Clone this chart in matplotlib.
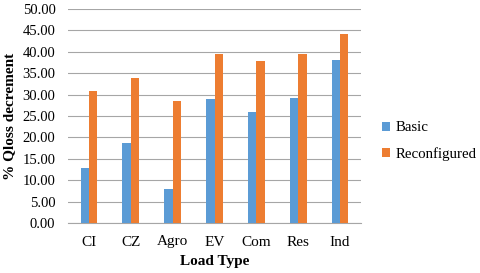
import matplotlib
matplotlib.use("Agg")
import matplotlib.pyplot as plt
import numpy as np

categories = ["CI", "CZ", "Agro", "EV", "Com", "Res", "Ind"]
basic = [12.9, 18.8, 7.9, 29.0, 26.0, 29.3, 38.0]
reconfigured = [30.9, 33.9, 28.5, 39.6, 37.8, 39.4, 44.1]
yticks = [0, 5, 10, 15, 20, 25, 30, 35, 40, 45, 50]

plt.rcParams['font.family'] = ['Liberation Serif', 'DejaVu Serif']

fig = plt.figure(figsize=(4.8, 2.73), dpi=100)
ax = fig.add_axes([68/480, 1-223/273, (361-68)/480, (223-9)/273])

x = np.arange(len(categories))
w = 0.2
ax.bar(x - w/2, basic, w, color="#5B9BD5", label="Basic", zorder=3)
ax.bar(x + w/2, reconfigured, w, color="#ED7D31", label="Reconfigured", zorder=3)

ax.set_xlim(-0.5, len(categories) - 0.5)
ax.set_ylim(0, 50)
ax.set_yticks(yticks)
ax.set_yticklabels([f"{v:.2f}" for v in yticks], fontsize=10.5)
ax.set_xticks(x)
ax.set_xticklabels(categories, fontsize=11)
ax.tick_params(axis='y', length=0, pad=9)
ax.tick_params(axis='x', length=0, pad=9)
ax.grid(axis='y', color="#A6A6A6", linewidth=0.8, zorder=0)
for s in ["top", "right", "left"]:
    ax.spines[s].set_visible(False)
ax.spines["bottom"].set_color("#A6A6A6")
ax.spines["bottom"].set_linewidth(0.8)

fig.text(215/480, 1-261/273, "Load Type", fontsize=11, fontweight="bold",
         ha="center", va="center")
fig.text(10/480, 1-116/273, "% Qloss decrement", fontsize=11, fontweight="bold",
         ha="center", va="center", rotation=90)

ax.legend(loc="center left", bbox_to_anchor=(382/480, 1-141/273),
          bbox_transform=fig.transFigure, frameon=False, borderpad=0,
          fontsize=10.7, handlelength=0.55, handleheight=0.55, handletextpad=0.35,
          labelspacing=0.85, borderaxespad=0)

fig.savefig("out.png", dpi=100)
